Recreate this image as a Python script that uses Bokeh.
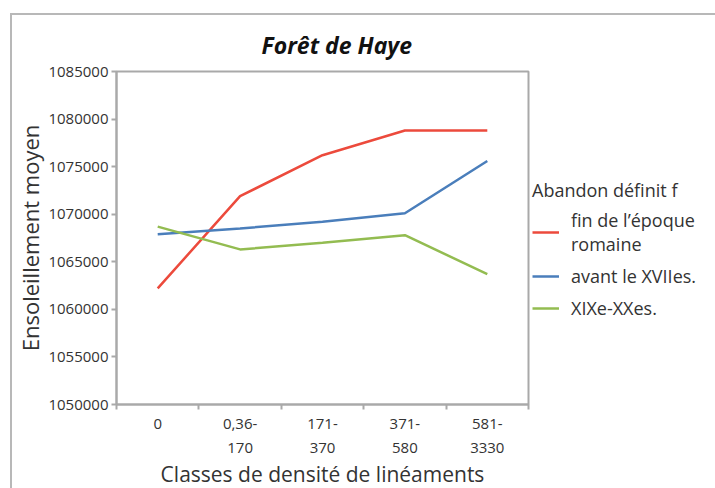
from bokeh.plotting import figure
from bokeh.models import (Range1d, FixedTicker, Legend, LegendItem, NumeralTickFormatter)
from bokeh.embed import file_html
from bokeh.resources import INLINE

# ---- data ----
categories = ["0", "0,36-\n170", "171-\n370", "371-\n580", "581-\n3330"]
fin_epoque_romaine = [1062200, 1071900, 1076200, 1078800, 1078800]
avant_XVIIes = [1067900, 1068500, 1069200, 1070100, 1075600]
XIXe_XXes = [1068700, 1066300, 1067000, 1067800, 1063700]
series_labels = ["fin de l\u2019\u00e9poque\nromaine", "avant le XVIIes.", "XIXe-XXes."]
y_ticks = [1050000, 1055000, 1060000, 1065000, 1070000, 1075000, 1080000, 1085000]

FONT = "Open Sans"
GRAY = "#a9a9a9"
TXT = "#333333"

xs = [i + 0.5 for i in range(len(categories))]
bounds = list(range(len(categories) + 1))

p = figure(frame_width=412, frame_height=333,
           x_range=Range1d(0, len(categories)),
           y_range=Range1d(y_ticks[0], y_ticks[-1]),
           output_backend="svg", toolbar_location=None,
           min_border_left=104, min_border_right=180,
           min_border_top=56, min_border_bottom=78,
           background_fill_color="white", border_fill_color="white")
p.margin = (13, 0, 0, 10)
p.styles = {"border-left": "2px solid #b8b8b8", "border-top": "2px solid #b8b8b8"}

p.title.text = "For\u00eat de Haye"
p.title.text_font = FONT
p.title.text_font_style = "bold italic"
p.title.text_font_size = "23px"
p.title.text_color = "#111111"
p.title.align = "left"
p.title.offset = 145
p.title.standoff = 21

p.xgrid.visible = False
p.ygrid.visible = False
p.outline_line_color = GRAY
p.outline_line_width = 2

# x axis
xa = p.xaxis[0]
xa.ticker = FixedTicker(ticks=xs, minor_ticks=bounds)
xa.major_label_overrides = {x: c for x, c in zip(xs, categories)}
xa.major_tick_line_color = None
xa.major_tick_out = 5
xa.major_tick_in = 0
xa.minor_tick_line_color = GRAY
xa.minor_tick_line_width = 2
xa.minor_tick_out = 5
xa.minor_tick_in = 0
xa.axis_line_color = GRAY
xa.axis_line_width = 2
xa.major_label_text_font = FONT
xa.major_label_text_font_size = "15px"
xa.major_label_text_color = TXT
xa.major_label_standoff = 3
xa.axis_label = "Classes de densit\u00e9 de lin\u00e9aments"
xa.axis_label_text_font = FONT
xa.axis_label_text_font_size = "21px"
xa.axis_label_text_font_style = "normal"
xa.axis_label_text_color = TXT
xa.axis_label_standoff = 0

# y axis
ya = p.yaxis[0]
ya.ticker = FixedTicker(ticks=y_ticks)
ya.formatter = NumeralTickFormatter(format="0")
ya.major_tick_line_color = GRAY
ya.major_tick_line_width = 2
ya.major_tick_out = 5
ya.major_tick_in = 0
ya.minor_tick_line_color = None
ya.axis_line_color = GRAY
ya.axis_line_width = 2
ya.major_label_text_font = FONT
ya.major_label_text_font_size = "15px"
ya.major_label_text_color = TXT
ya.major_label_standoff = 3
ya.axis_label = "Ensoleillement moyen"
ya.axis_label_text_font = FONT
ya.axis_label_text_font_size = "22px"
ya.axis_label_text_font_style = "normal"
ya.axis_label_text_color = TXT
ya.axis_label_standoff = 0

colors = ["#ec4a3c", "#4a7ebb", "#93bc51"]
series = [fin_epoque_romaine, avant_XVIIes, XIXe_XXes]
items = []
for vals, col, lab in zip(series, colors, series_labels):
    r = p.line(xs, vals, line_color=col, line_width=2.5)
    items.append(LegendItem(label=lab, renderers=[r]))

legend = Legend(items=items, location=(4, 84),
                title="Abandon d\u00e9finit f",
                title_text_font=FONT, title_text_font_size="18px",
                title_text_font_style="normal", title_text_color=TXT,
                title_standoff=6,
                label_text_font=FONT, label_text_font_size="18px",
                label_text_line_height=1.1,
                label_text_color=TXT, label_standoff=12,
                glyph_width=27, spacing=8, padding=0, margin=0,
                border_line_color=None, background_fill_alpha=0)
p.add_layout(legend, "right")

open("out.html", "w").write(file_html(p, INLINE))
